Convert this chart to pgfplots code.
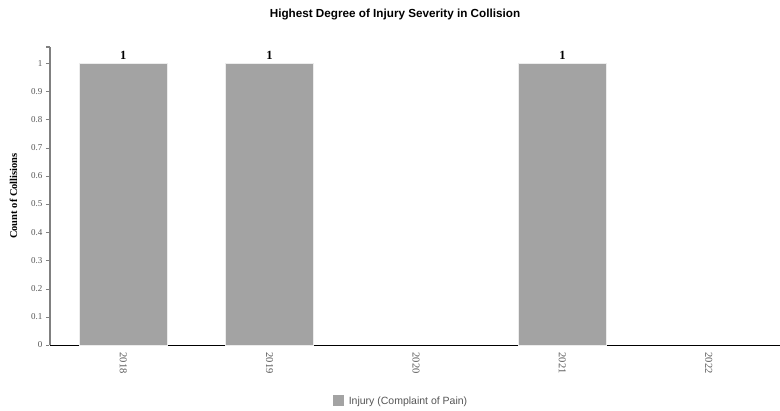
\documentclass[border=0pt]{standalone}
\usepackage{pgfplots}
\pgfplotsset{compat=1.18}
\usepackage{fontspec}
\setmainfont{Liberation Serif}
\newfontfamily\sansf{Liberation Sans}
\definecolor{bargray}{HTML}{A3A3A3}
\definecolor{txtgray}{HTML}{555555}
\begin{document}
\begin{tikzpicture}
\path[use as bounding box] (0,0) rectangle (780pt,411pt);
\begin{axis}[
  name=ax,
  at={(50pt,66pt)}, anchor=south west,
  scale only axis, width=732pt, height=298pt,
  xmin=-0.5, xmax=4.5, ymin=0, ymax=1.057,
  axis x line*=bottom, axis y line*=left,
  x axis line style={black, line width=0.8pt, -},
  y axis line style={gray, line width=1.2pt, -},
  xtick={0,1,2,3,4},
  xticklabels={2018,2019,2020,2021,2022},
  xticklabel style={rotate=-90, anchor=west, font=\fontsize{10.5}{11}\selectfont, text=txtgray},
  x tick style={draw=none},
  extra x ticks={0.5,1.5,2.5,3.5},
  extra x tick labels={},
  extra x tick style={tick style={gray, thin, draw=gray}, major tick length=2pt, tick align=outside},
  ytick={0,0.1,...,1.0},
  yticklabels={0,0.1,0.2,0.3,0.4,0.5,0.6,0.7,0.8,0.9,1},
  yticklabel style={font=\fontsize{9}{10}\selectfont, text=txtgray},
  y tick style={gray, densely dotted},
  tick align=outside, major tick length=4pt,
  ylabel={\textbf{Count of Collisions}},
  ylabel style={font=\fontsize{10.5}{11}\selectfont, at={(axis description cs:-0.05,0.5)}, anchor=center, rotate=0, text=black},
  ybar, bar width=88pt,
  nodes near coords={\textbf{\pgfmathprintnumber[assume math mode=true]{\pgfplotspointmeta}}},
  every node near coord/.append style={font=\fontsize{12.5}{13}\selectfont\bfseries, text=black},
  legend style={at={(axis description cs:0.48,-0.188)}, anchor=center, draw=none, font=\sansf\fontsize{10.5}{11}\selectfont, text=txtgray, legend columns=1},
  legend image code/.code={\fill[bargray] (0cm,-0.14cm) rectangle (0.33cm,0.19cm); \path (0.45cm,0);},
  clip=false,
]
\addplot[fill=bargray, draw=white!85!gray, line width=0.5pt] coordinates {(0,1) (1,1) (3,1)};
\addlegendentry{Injury (Complaint of Pain)}
\end{axis}
\draw[gray, line width=1.2pt] (ax.north west) -- ++(-4pt,0);
\node[font=\sansf\bfseries\fontsize{11.7}{12}\selectfont] at (395pt,396pt) {Highest Degree of Injury Severity in Collision};
\end{tikzpicture}
\end{document}
